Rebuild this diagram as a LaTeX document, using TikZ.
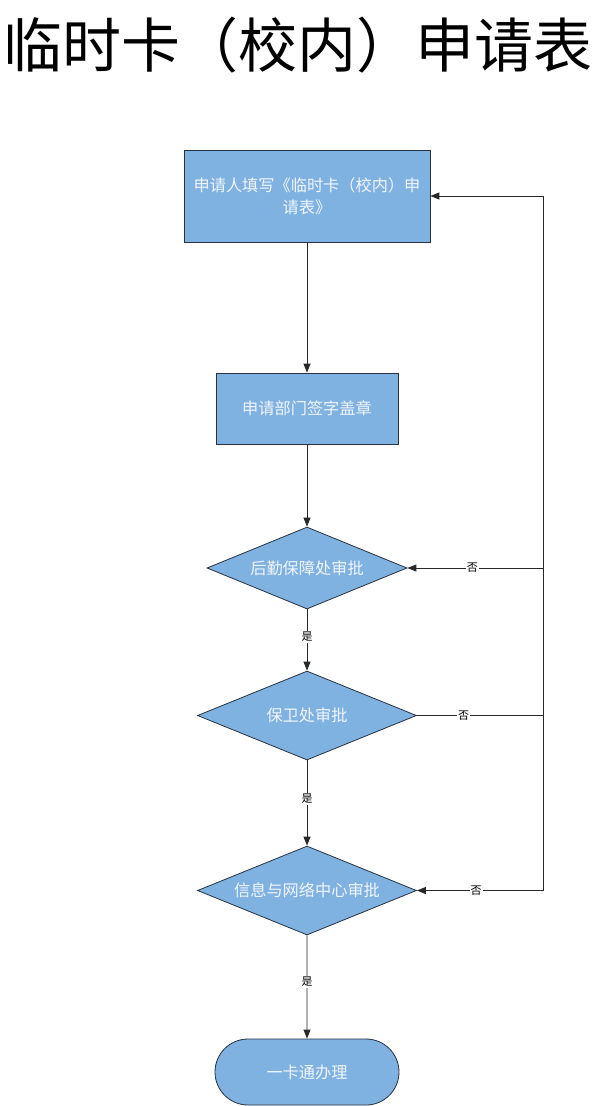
\documentclass[tikz,border=0pt]{standalone}
\usepackage{fontspec}
\setmainfont{Noto Sans CJK SC}
\usetikzlibrary{shapes.geometric,shapes.misc,arrows.meta,calc}
\definecolor{boxfill}{RGB}{127,178,225}
\definecolor{boxline}{RGB}{40,50,65}
\definecolor{linegray}{RGB}{40,40,40}
\definecolor{txtwhite}{RGB}{240,245,252}
\tikzset{
  procbox/.style={draw=boxline,fill=boxfill,line width=0.8pt,minimum width=#1,inner sep=0pt,text=txtwhite,font=\fontsize{16.2}{22}\selectfont,align=center},
  decbox/.style={draw=boxline,fill=boxfill,line width=0.8pt,diamond,inner sep=0pt},
  dectext/.style={text=txtwhite,font=\fontsize{16.2}{22}\selectfont},
  endbox/.style={draw=boxline,fill=boxfill,line width=0.8pt,rounded rectangle,inner sep=0pt,text=txtwhite,font=\fontsize{16.2}{22}\selectfont},
  flow/.style={draw=linegray,line width=0.9pt,-{Triangle[length=9pt,width=7pt]}},
  plain/.style={draw=linegray,line width=0.9pt},
  lbl/.style={fill=white,inner sep=1pt,font=\fontsize{11}{12}\selectfont,text=black}
}
\begin{document}
\begin{tikzpicture}[x=1pt,y=-1pt]
\useasboundingbox (0,0) rectangle (600,1106);
\node[inner sep=0pt] (title) at (298,45) {\fontsize{59}{66}\selectfont 临时卡（校内）申请表};
\node[procbox=246pt,minimum height=92pt] (b1) at (307,196) {申请人填写《临时卡（校内）申\\请表》};
\node[procbox=182pt,minimum height=71pt] (b2) at (307,408.5) {申请部门签字盖章};
\node[decbox,minimum width=200pt,minimum height=82pt] (d1) at (307,568) {};
\node[dectext] at (d1.center) {后勤保障处审批};
\node[decbox,minimum width=219pt,minimum height=89pt] (d2) at (307,715.5) {};
\node[dectext] at (d2.center) {保卫处审批};
\node[decbox,minimum width=219pt,minimum height=89pt] (d3) at (307,890.5) {};
\node[dectext] at (d3.center) {信息与网络中心审批};
\node[endbox,minimum width=184pt,minimum height=66pt] (e) at (307,1072) {一卡通办理};
\coordinate (c1) at (543,568);
\coordinate (c2) at (543,715.5);
\coordinate (c3) at (543,890.5);
\draw[flow] (b1) -- (b2);
\draw[flow] (b2) -- (d1);
\draw[flow] (d1) -- node[lbl,pos=0.45]{是} (d2);
\draw[flow] (d2) -- node[lbl,pos=0.45]{是} (d3);
\draw[flow] (d3) -- node[lbl,pos=0.45]{是} (e);
\draw[flow] (d2.east) -- node[lbl,pos=0.37]{否} (c2) |- (b1.east);
\draw[plain] (c3) -- (c2);
\draw[flow] (c1) -- node[lbl,pos=0.52]{否} (d1.east);
\draw[flow] (c3) -- node[lbl,pos=0.53]{否} (d3.east);
\end{tikzpicture}
\end{document}
